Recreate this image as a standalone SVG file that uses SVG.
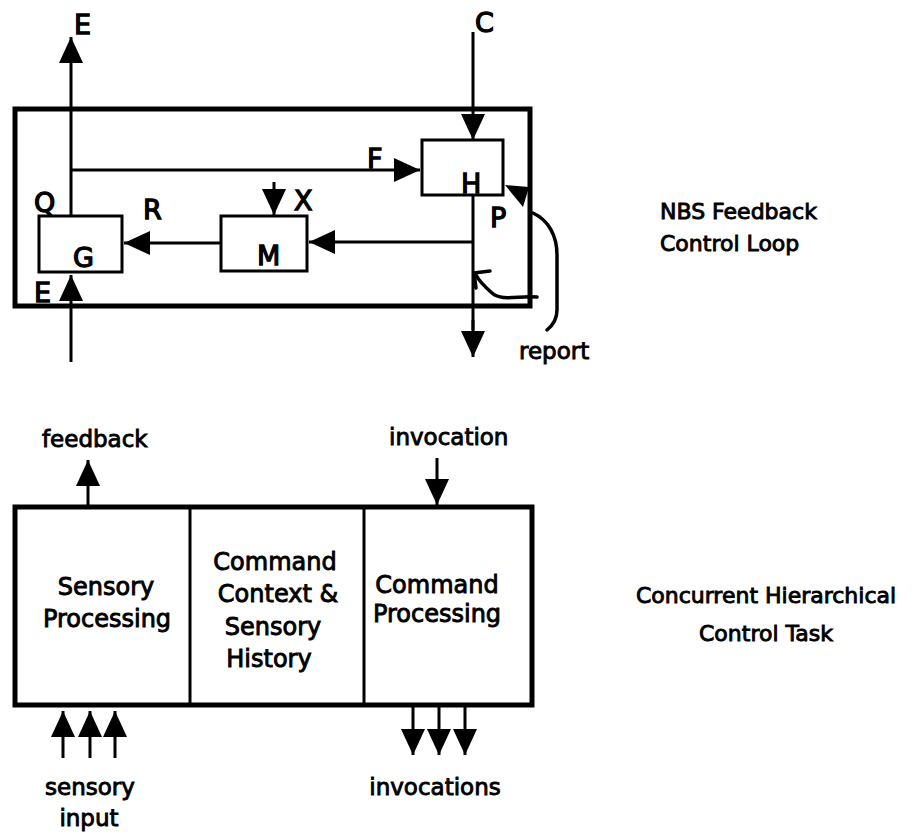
<svg xmlns="http://www.w3.org/2000/svg" width="915" height="834" viewBox="0 0 915 834">
<style>
.box{fill:none;stroke:#000;stroke-width:3}
.frame{fill:none;stroke:#000;stroke-width:5}
.ln{fill:none;stroke:#000;stroke-width:3}
.ar{fill:none;stroke:#000;stroke-width:3;marker-end:url(#ah)}
.cv{fill:none;stroke:#000;stroke-width:3.5;stroke-linecap:round;stroke-linejoin:round}
text{font-family:"DejaVu Sans","Liberation Sans",sans-serif;fill:#000;stroke:#000;stroke-width:0.9}
.big{font-size:27px;stroke-width:1.3}
.lbl{font-size:23px}
.sec{font-size:24px;text-anchor:middle}
.ttl{font-size:22px}
</style>
<defs>
<marker id="ah" markerUnits="userSpaceOnUse" markerWidth="30" markerHeight="28" refX="26" refY="13" orient="auto" viewBox="0 0 30 28">
<path d="M0,1 L26,13 L0,25 Q-4,13 0,1 Z" fill="#000"/>
</marker>
</defs>
<rect x="0" y="0" width="915" height="834" fill="#fff"/>

<g id="loop-frame"><rect class="frame" x="15" y="109" width="515" height="197"/></g>
<g id="node-G"><rect class="box" x="39" y="216" width="83" height="56"/><text class="big" x="73" y="267">G</text></g>
<g id="node-M"><rect class="box" x="221" y="216" width="86" height="55"/><text class="big" x="257" y="265">M</text></g>
<g id="node-H"><rect class="box" x="422" y="140" width="81" height="55"/><text class="big" x="461" y="193">H</text></g>

<g id="connectors">
<line class="ar" x1="71" y1="216" x2="71" y2="37"/>
<line class="ar" x1="71" y1="170" x2="420" y2="170"/>
<line class="ar" x1="473" y1="32" x2="473" y2="140"/>
<line class="ln" x1="473" y1="195" x2="473" y2="330"/>
<line class="ar" x1="473" y1="320" x2="473" y2="357"/>
<line class="ar" x1="473" y1="242" x2="309" y2="242"/>
<line class="ar" x1="221" y1="243" x2="124" y2="243"/>
<line class="ar" x1="274" y1="182" x2="274" y2="215"/>
<line class="ar" x1="71" y1="362" x2="71" y2="275"/>
<polygon points="505,185 529,187 523,207" fill="#000"/>
<path class="cv" d="M533,213 C548,220 557,235 557,255 L557,310 C557,320 552,326 547,330"/>
<path class="cv" d="M537,297 C520,295 502,302 492,293 C484,286 479,281 476,275"/>
<path class="cv" d="M490,271 L474,273 L476,288"/>

<line class="ar" x1="88" y1="507" x2="88" y2="460"/>
<line class="ar" x1="437" y1="458" x2="437" y2="505"/>
<line class="ar" x1="63" y1="758" x2="63" y2="711"/>
<line class="ar" x1="90" y1="758" x2="90" y2="711"/>
<line class="ar" x1="115" y1="758" x2="115" y2="711"/>
<line class="ar" x1="413" y1="707" x2="413" y2="755"/>
<line class="ar" x1="439" y1="707" x2="439" y2="755"/>
<line class="ar" x1="465" y1="707" x2="465" y2="755"/>
</g>

<g id="loop-labels">
<text class="big" x="74" y="34">E</text>
<text class="big" x="475" y="32">C</text>
<text class="big" x="367" y="168">F</text>
<text class="big" x="34" y="212">Q</text>
<text class="big" x="143" y="219">R</text>
<text class="big" x="294" y="210">X</text>
<text class="big" x="490" y="227">P</text>
<text class="big" x="34" y="302">E</text>
<text class="lbl" x="519" y="359">report</text>
</g>
<g id="title-nbs">
<text class="ttl" x="660" y="219">NBS Feedback</text>
<text class="ttl" x="660" y="251">Control Loop</text>
</g>

<g id="task-frame"><rect class="frame" x="15" y="507" width="517" height="198"/></g>
<g id="node-sensory"><line class="box" x1="190" y1="507" x2="190" y2="705"/>
<text class="sec" x="106" y="595">Sensory</text><text class="sec" x="107" y="627">Processing</text></g>
<g id="node-context"><line class="box" x1="364" y1="507" x2="364" y2="705"/>
<text class="sec" x="275" y="570">Command</text><text class="sec" x="278" y="602">Context &amp;</text><text class="sec" x="273" y="635">Sensory</text><text class="sec" x="269" y="667">History</text></g>
<g id="node-command">
<text class="sec" x="437" y="593">Command</text><text class="sec" x="437" y="622">Processing</text></g>

<g id="task-labels">
<text class="lbl" x="42" y="447">feedback</text>
<text class="lbl" x="389" y="445">invocation</text>
<text class="lbl" x="90" y="795" text-anchor="middle">sensory</text>
<text class="lbl" x="89" y="826" text-anchor="middle">input</text>
<text class="lbl" x="435" y="795" text-anchor="middle">invocations</text>
</g>
<g id="title-task">
<text class="ttl" x="766" y="603" text-anchor="middle">Concurrent Hierarchical</text>
<text class="ttl" x="766" y="641" text-anchor="middle">Control Task</text>
</g>
</svg>
